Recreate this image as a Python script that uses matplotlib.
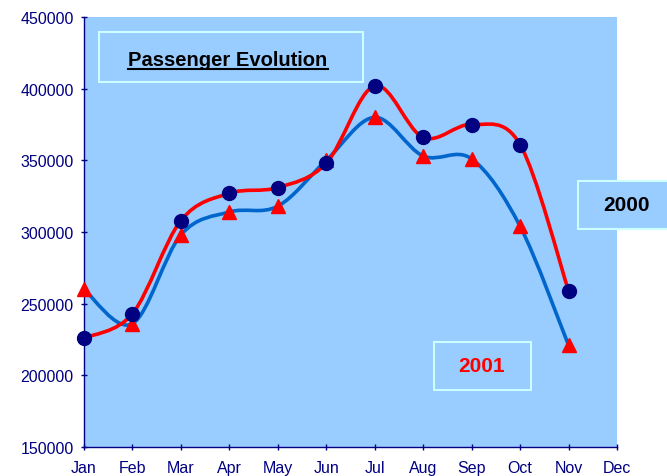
import numpy as np
import matplotlib
matplotlib.use("Agg")
import matplotlib.pyplot as plt
from matplotlib.path import Path
from matplotlib.patches import PathPatch, Rectangle
from matplotlib.lines import Line2D

plt.rcParams["font.family"] = ["Liberation Sans", "DejaVu Sans"]

months = ["Jan", "Feb", "Mar", "Apr", "May", "Jun", "Jul", "Aug", "Sep", "Oct", "Nov", "Dec"]
pax_2000 = [226000, 243000, 308000, 327000, 331000, 348000, 402000, 366000, 375000, 361000, 259000]
pax_2001 = [260000, 236000, 298000, 314000, 318000, 350000, 380000, 353000, 351000, 304000, 221000]
y_ticks = [150000, 200000, 250000, 300000, 350000, 400000, 450000]

BG = "#99ccff"
NAVY = "#000080"
BOX_EDGE = "#ccffff"


def smooth_path(x, y):
    # Excel style smoothed line: cubic bezier with catmull-rom control points
    pts = np.column_stack([x, y]).astype(float)
    n = len(pts)
    verts = [pts[0]]
    codes = [Path.MOVETO]
    for i in range(n - 1):
        p0 = pts[i - 1] if i > 0 else pts[i]
        p1 = pts[i]
        p2 = pts[i + 1]
        p3 = pts[i + 2] if i + 2 < n else pts[i + 1]
        verts += [p1 + (p2 - p0) / 6.0, p2 - (p3 - p1) / 6.0, p2]
        codes += [Path.CURVE4] * 3
    return Path(verts, codes)


fig = plt.figure(figsize=(6.67, 4.77), dpi=100)
ax = fig.add_axes([84 / 667, 1 - 448 / 477, 533 / 667, 430 / 477])
ax.set_facecolor(BG)

x = np.arange(len(pax_2000))

ax.add_patch(PathPatch(smooth_path(x, pax_2001), fill=False, edgecolor="#0066cc", lw=2.6,
                       zorder=2, clip_on=False))
ax.plot(x, pax_2001, linestyle="none", marker="^", markersize=10, color="#ff0000",
        zorder=3, clip_on=False)
ax.add_patch(PathPatch(smooth_path(x, pax_2000), fill=False, edgecolor="#ff0000", lw=2.6,
                       zorder=4, clip_on=False))
ax.plot(x, pax_2000, linestyle="none", marker="o", markersize=10, color=NAVY,
        zorder=5, clip_on=False)

ax.set_xlim(0, 11)
ax.set_ylim(150000, 450000)
ax.set_xticks(range(12))
ax.set_xticklabels(months)
ax.set_yticks(y_ticks)
ax.set_yticklabels([str(v) for v in y_ticks])

for s in ["top", "right"]:
    ax.spines[s].set_visible(False)
for s in ["left", "bottom"]:
    ax.spines[s].set_color(NAVY)
    ax.spines[s].set_linewidth(1.0)
ax.tick_params(axis="both", direction="inout", length=5, width=1, color=NAVY,
               labelcolor=NAVY, labelsize=11.5)
ax.tick_params(axis="x", pad=7)
ax.tick_params(axis="y", pad=5)

# title box, underlined text
fig.patches.append(Rectangle((99 / 667, 1 - 83 / 477), 264 / 667, 50 / 477, transform=fig.transFigure,
                             facecolor=BG, edgecolor=BOX_EDGE, lw=1.5, zorder=10))
title = fig.text(228 / 667, 1 - 66 / 477, "Passenger Evolution", ha="center", va="baseline",
                 fontsize=14.5, fontweight="bold", color="black", zorder=11)
fig.canvas.draw()
bb = title.get_window_extent().transformed(fig.transFigure.inverted())
fig.lines.append(Line2D([bb.x0, bb.x1], [1 - 70 / 477, 1 - 70 / 477], transform=fig.transFigure,
                        color="black", lw=1.5, zorder=11))

# series labels
fig.patches.append(Rectangle((578 / 667, 1 - 230 / 477), 100 / 667, 48 / 477, transform=fig.transFigure,
                             facecolor=BG, edgecolor=BOX_EDGE, lw=1.5, zorder=10))
fig.text(626 / 667, 1 - 206 / 477, "2000", ha="center", va="center",
         fontsize=15, fontweight="bold", color="black", zorder=11)
fig.patches.append(Rectangle((434 / 667, 1 - 391 / 477), 97 / 667, 48 / 477, transform=fig.transFigure,
                             facecolor=BG, edgecolor=BOX_EDGE, lw=1.5, zorder=10))
fig.text(482 / 667, 1 - 367 / 477, "2001", ha="center", va="center",
         fontsize=15, fontweight="bold", color="#ff0000", zorder=11)

fig.savefig("out.png", dpi=100)
